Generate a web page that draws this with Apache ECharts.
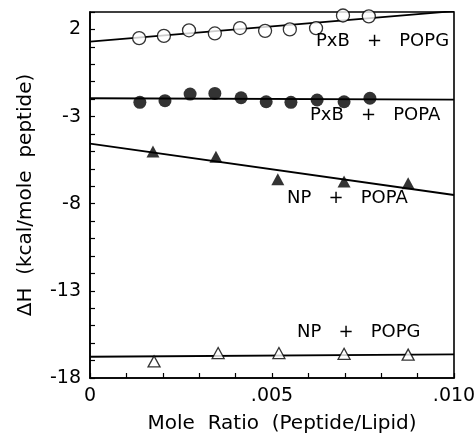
<!DOCTYPE html>
<html>
<head>
<meta charset="utf-8">
<script src="https://cdn.jsdelivr.net/npm/echarts@6/dist/echarts.min.js"></script>
<style>html,body{margin:0;padding:0;background:#fff}#c{width:474px;height:433px}</style>
</head>
<body>
<div id="c"></div>
<script>
// ---- data ----
const pxbPopgX = [0.00135, 0.00203, 0.00272, 0.00343, 0.00412, 0.00481, 0.00549, 0.00621, 0.00695, 0.00766];
const pxbPopgY = [1.50, 1.63, 1.95, 1.77, 2.08, 1.92, 2.00, 2.07, 2.80, 2.75];
const pxbPopaX = [0.00137, 0.00206, 0.00275, 0.00343, 0.00415, 0.00484, 0.00552, 0.00624, 0.00698, 0.00769];
const pxbPopaY = [-2.18, -2.09, -1.71, -1.67, -1.92, -2.15, -2.18, -2.05, -2.15, -1.95];
const npPopaX = [0.00173, 0.00346, 0.00516, 0.00698, 0.00874];
const npPopaY = [-5.01, -5.30, -6.60, -6.73, -6.83];
const npPopgX = [0.00176, 0.00352, 0.00519, 0.00698, 0.00874];
const npPopgY = [-17.05, -16.57, -16.57, -16.61, -16.66];
// fitted straight lines: [x, y] end points
const pxbPopgFit = [[0, 1.30], [0.010, 3.05]];
const pxbPopaFit = [[0, -1.95], [0.010, -2.03]];
const npPopaFit = [[0, -4.55], [0.010, -7.50]];
const npPopgFit = [[0, -16.78], [0.010, -16.65]];
const xTickLabels = {0: '0', 5: '.005', 10: '.010'};
const yTickLabels = [2, -3, -8, -13, -18];
const seriesLabels = ['PxB   +   POPG', 'PxB   +   POPA', 'NP   +   POPA', 'NP   +   POPG'];

const zip = (xs, ys) => xs.map((x, i) => [x, ys[i]]);
const FONT = 'DejaVu Sans';

const chart = echarts.init(document.getElementById('c'), null, {renderer: 'canvas'});
const lineStyle = {color: '#000', width: 1.8};
const fitSeries = (d) => ({type: 'line', data: d, showSymbol: false, symbol: 'none', lineStyle, clip: true, silent: true, z: 2});

chart.setOption({
  animation: false,
  backgroundColor: '#fff',
  grid: {left: 90, top: 12, right: 20, bottom: 55, outerBoundsMode: 'none', containLabel: false,
         show: true, borderColor: '#000', borderWidth: 1.6, backgroundColor: 'transparent'},
  xAxis: {
    type: 'value', min: 0, max: 0.010, interval: 0.001,
    name: 'Mole  Ratio  (Peptide/Lipid)', nameLocation: 'middle', nameGap: 36,
    nameTextStyle: {fontFamily: FONT, fontSize: 20, color: '#000', padding: [0, 0, 0, 20]},
    axisLine: {onZero: false, lineStyle: {color: '#000', width: 1.6}},
    axisTick: {inside: true, length: 5, lineStyle: {color: '#000', width: 1.2}},
    splitLine: {show: false},
    axisLabel: {
      margin: 9, fontFamily: FONT, fontSize: 19, color: '#000', showMaxLabel: true,
      formatter: (v) => { const k = Math.round(v * 1000); return xTickLabels[k] !== undefined ? xTickLabels[k] : ''; }
    }
  },
  yAxis: {
    type: 'value', min: -18, max: 3, interval: 1,
    name: 'ΔH  (kcal/mole  peptide)', nameLocation: 'middle', nameGap: 54, nameRotate: 90,
    nameTextStyle: {fontFamily: FONT, fontSize: 20, color: '#000'},
    axisLine: {onZero: false, lineStyle: {color: '#000', width: 1.6}},
    axisTick: {inside: true, length: 5, lineStyle: {color: '#000', width: 1.2}},
    splitLine: {show: false},
    axisLabel: {
      margin: 9, fontFamily: FONT, fontSize: 19, color: '#000',
      formatter: (v) => { const r = Math.round(v); return yTickLabels.indexOf(r) >= 0 ? String(r) : ''; }
    }
  },
  series: [
    fitSeries(pxbPopgFit),
    fitSeries(pxbPopaFit),
    fitSeries(npPopaFit),
    fitSeries(npPopgFit),
    {type: 'scatter', data: zip(pxbPopgX, pxbPopgY), symbol: 'circle', symbolSize: 13,
     itemStyle: {color: '#fff', borderColor: '#000', borderWidth: 1.3}, z: 3},
    {type: 'scatter', data: zip(pxbPopaX, pxbPopaY), symbol: 'circle', symbolSize: 13,
     itemStyle: {color: '#000'}, z: 3},
    {type: 'scatter', data: zip(npPopaX, npPopaY), symbol: 'triangle', symbolSize: [13, 12],
     itemStyle: {color: '#000'}, z: 3},
    {type: 'scatter', data: zip(npPopgX, npPopgY), symbol: 'triangle', symbolSize: [12, 11],
     itemStyle: {color: '#fff', borderColor: '#000', borderWidth: 1.3}, z: 3}
  ],
  graphic: [
    {type: 'text', left: 316, top: 32, z: 10, style: {text: seriesLabels[0], font: '18px "DejaVu Sans"', fill: '#000'}},
    {type: 'text', left: 310, top: 106, z: 10, style: {text: seriesLabels[1], font: '18px "DejaVu Sans"', fill: '#000'}},
    {type: 'text', left: 287, top: 189, z: 10, style: {text: seriesLabels[2], font: '18px "DejaVu Sans"', fill: '#000'}},
    {type: 'text', left: 297, top: 323, z: 10, style: {text: seriesLabels[3], font: '18px "DejaVu Sans"', fill: '#000'}}
  ]
});
</script>
</body>
</html>
